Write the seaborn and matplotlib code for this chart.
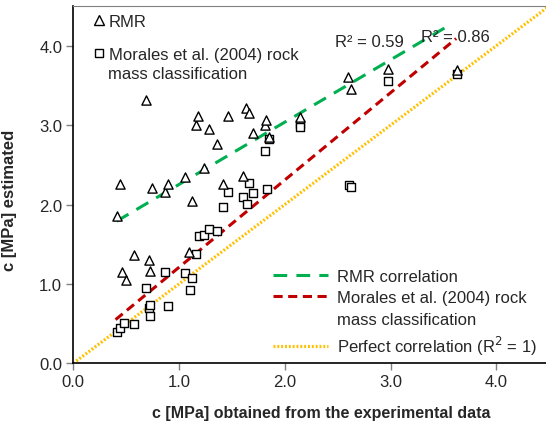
import seaborn as sns
import matplotlib.pyplot as plt
import pandas as pd
from matplotlib.lines import Line2D

# values
rmr_x = [0.41, 0.44, 0.46, 0.50, 0.57, 0.69, 0.72, 0.73, 0.74, 0.87, 0.90,
         1.06, 1.09, 1.12, 1.16, 1.18, 1.24, 1.28, 1.36, 1.42, 1.46, 1.60,
         1.63, 1.66, 1.70, 1.81, 1.82, 1.85, 2.14, 2.60, 2.63, 2.98, 3.63]
rmr_y = [1.86, 2.26, 1.15, 1.05, 1.36, 3.31, 1.30, 1.16, 2.21, 2.16, 2.26,
         2.35, 1.40, 2.05, 3.00, 3.11, 2.46, 2.95, 2.76, 2.26, 3.11, 2.36,
         3.22, 3.15, 2.90, 3.00, 3.06, 2.85, 3.10, 3.61, 3.45, 3.71, 3.70]

morales_x = [0.41, 0.44, 0.48, 0.57, 0.69, 0.72, 0.73, 0.73, 0.87, 0.90, 1.06,
             1.10, 1.12, 1.16, 1.19, 1.24, 1.28, 1.36, 1.42, 1.46, 1.60, 1.64,
             1.66, 1.70, 1.81, 1.83, 1.85, 2.14, 2.14, 2.61, 2.63, 2.98, 3.63]
morales_y = [0.40, 0.45, 0.51, 0.50, 0.95, 0.70, 0.73, 0.59, 1.15, 0.72, 1.14,
             0.92, 1.08, 1.38, 1.60, 1.61, 1.69, 1.67, 1.97, 2.16, 2.09, 2.01,
             2.27, 2.14, 2.67, 2.20, 2.83, 3.02, 2.97, 2.25, 2.22, 3.56, 3.64]

# trend line end points
rmr_fit_x = [0.41, 3.57]
rmr_fit_y = [1.79, 4.27]
morales_fit_x = [0.40, 3.62]
morales_fit_y = [0.55, 4.09]
perfect_x = [0.0, 4.5]
perfect_y = [0.0, 4.5]

ticks = [0.0, 1.0, 2.0, 3.0, 4.0]
tick_labels = ['0.0', '1.0', '2.0', '3.0', '4.0']

sns.set_style('white')
plt.rcParams['font.family'] = ['Liberation Sans', 'DejaVu Sans']

FS = 12

fig = plt.figure(figsize=(5.46, 4.27), dpi=100)
ax = fig.add_axes([0.1342, 0.1468, 0.866, 0.8368])

df_rmr = pd.DataFrame({'x': rmr_x, 'y': rmr_y})
df_mor = pd.DataFrame({'x': morales_x, 'y': morales_y})

yellow_style = (0, (0.6, 0.6))
green_style = (0, (4.5, 3.0))
red_style = (0, (3, 1.8))

sns.lineplot(x=perfect_x, y=perfect_y, ax=ax, color='#FFC000', lw=2.3,
             linestyle=yellow_style)
sns.lineplot(x=rmr_fit_x, y=rmr_fit_y, ax=ax, color='#00B050', lw=2.2,
             linestyle=green_style)
sns.lineplot(x=morales_fit_x, y=morales_fit_y, ax=ax, color='#C00000', lw=2.2,
             linestyle=red_style)

sns.scatterplot(data=df_mor, x='x', y='y', ax=ax, marker='s', s=40,
                facecolor='white', edgecolor='black', linewidth=1.0, zorder=3)
sns.scatterplot(data=df_rmr, x='x', y='y', ax=ax, marker='^', s=44,
                facecolor='white', edgecolor='black', linewidth=1.0, zorder=4)

ax.set_xlim(0, 4.47)
ax.set_ylim(0, 4.5)
ax.set_xticks(ticks)
ax.set_xticklabels(tick_labels)
ax.set_yticks(ticks)
ax.set_yticklabels(tick_labels)
ax.tick_params(axis='both', direction='out', length=5, width=1, color='#808080',
               labelsize=FS, pad=3, bottom=True, left=True)

for side in ['left', 'bottom']:
    ax.spines[side].set_color('black')
    ax.spines[side].set_linewidth(1.2)
ax.spines['top'].set_color('#808080')
ax.spines['right'].set_visible(False)

ax.set_xlabel('c [MPa] obtained from the experimental data', fontsize=11.5,
              fontweight='bold', labelpad=7)
ax.xaxis.set_label_coords(0.524, -0.118)
ax.set_ylabel('c [MPa] estimated', fontsize=FS, fontweight='bold', labelpad=6)
ax.yaxis.set_label_coords(-0.118, 0.46)

ax.text(2.80, 4.05, 'R² = 0.59', fontsize=FS, ha='center', va='center')
ax.text(3.61, 4.11, 'R² = 0.86', fontsize=FS, ha='center', va='center')

# marker legend, upper left (symbol sits on the first text line)
mark_handles = [
    Line2D([], [], marker='^', ls='', markersize=6.5, markerfacecolor='white',
           markeredgecolor='black', markeredgewidth=1.0),
    Line2D([], [], marker='s', ls='', markersize=6, markerfacecolor='white',
           markeredgecolor='black', markeredgewidth=1.0),
]
leg1 = ax.legend(mark_handles, ['RMR', 'Morales et al. (2004) rock'],
                 loc='upper left', bbox_to_anchor=(0.02, 1.01), frameon=False,
                 fontsize=FS, handlelength=0.6, handletextpad=0.25,
                 labelspacing=1.05, borderpad=0.2)
ax.add_artist(leg1)
ax.text(0.0734, 0.812, 'mass classification', transform=ax.transAxes,
        fontsize=FS, ha='left', va='center')

# line legend, lower right
blank = Line2D([], [], color='none')
line_handles = [
    Line2D([], [], color='#00B050', lw=2.2, linestyle=green_style),
    Line2D([], [], color='#C00000', lw=2.2, linestyle=red_style),
    blank,
    Line2D([], [], color='#FFC000', lw=2.3, linestyle=yellow_style),
]
ax.legend(line_handles, ['RMR correlation',
                         'Morales et al. (2004) rock',
                         'mass classification',
                         'Perfect correlation (R$^2$ = 1)'],
          loc='upper left', bbox_to_anchor=(0.398, 0.298), frameon=False,
          fontsize=FS, handlelength=3.3, handletextpad=0.55,
          labelspacing=0.4, borderpad=0.2)

plt.savefig('out.png', dpi=100)
